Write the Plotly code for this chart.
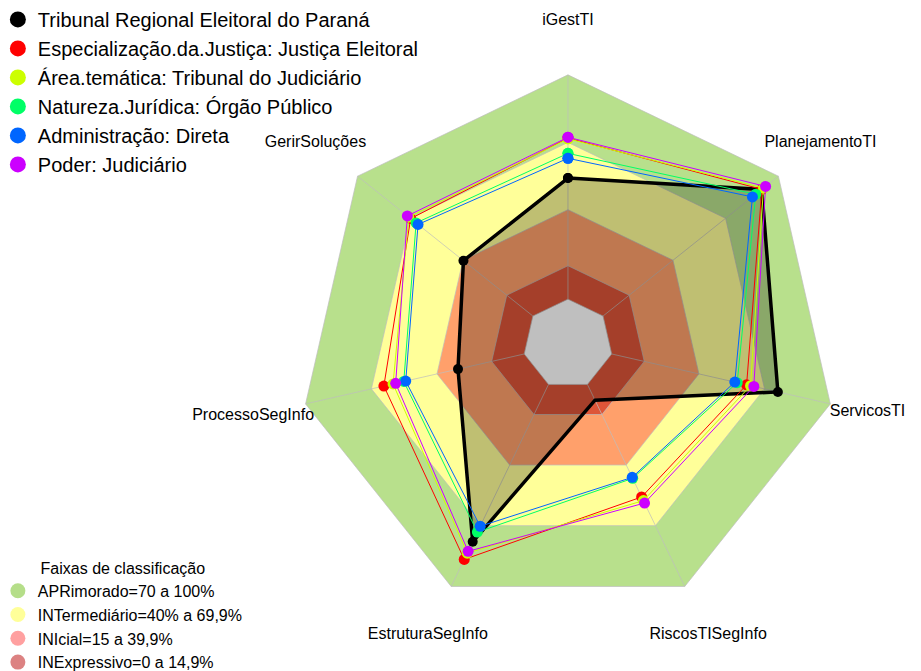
import plotly.graph_objects as go

# eixos do radar (sentido horario a partir do topo)
axes = ["iGestTI", "PlanejamentoTI", "ServicosTI", "RiscosTISegInfo",
        "EstruturaSegInfo", "ProcessoSegInfo", "GerirSoluções"]

tre_pr = [54, 90.5, 76, 7.8, 77.9, 30.3, 39.6]
justica_eleitoral = [71.8, 90.6, 61.7, 55.7, 86.6, 64.2, 69.7]
area_tematica = [71.5, 91.5, 63.5, 57.5, 83.5, 60.0, 70.8]
natureza_juridica = [65.0, 87.1, 57.4, 46.5, 73.1, 55.1, 66.6]
administracao = [62.8, 85.2, 56.3, 46.0, 70.2, 54.2, 65.5]
poder = [72.2, 92.7, 65.0, 58.7, 82.6, 58.8, 71.6]

series_names = [
    "Tribunal Regional Eleitoral do Paraná",
    "Especialização.da.Justiça: Justiça Eleitoral",
    "Área.temática: Tribunal do Judiciário",
    "Natureza.Jurídica: Órgão Público",
    "Administração: Direta",
    "Poder: Judiciário",
]
series_values = [tre_pr, justica_eleitoral, area_tematica,
                 natureza_juridica, administracao, poder]
series_colors = ["#000000", "#FF0000", "#CCFF00", "#00FF66", "#0066FF", "#CC00FF"]

# faixas de classificacao
band_names = ["APRimorado=70 a 100%", "INTermediário=40% a 69,9%",
              "INIcial=15 a 39,9%", "INExpressivo=0 a 14,9%"]
band_limits = [100, 69.9, 39.9, 14.9]
band_fill = ["#B8E08C", "#FFFF99", "#FFA06B", "#DD5538"]
band_legend = ["#B5DE89", "#FFFF99", "#FFA0A0", "#DC8282"]

R_MIN, R_MAX = -20, 125
# raio dos rotulos (ServicosTI puxado para dentro para caber na pagina)
label_r = [117 if a == "ServicosTI" else 124 for a in axes]

closed = axes + axes[:1]
fig = go.Figure()

# faixas (poligonos preenchidos, de fora para dentro)
for lim, col in zip(band_limits + [0], band_fill + ["#FFFFFF"]):
    fig.add_scatterpolar(
        r=[lim] * len(closed), theta=closed, mode="lines", fill="toself",
        fillcolor=col, line=dict(color="rgba(190,190,190,0.7)", width=1),
        showlegend=False, hoverinfo="skip",
    )

# raios
for a in axes:
    fig.add_scatterpolar(
        r=[0, 100], theta=[a, a], mode="lines",
        line=dict(color="rgba(190,190,190,0.7)", width=1),
        showlegend=False, hoverinfo="skip",
    )

# series
for i, (name, vals, col) in enumerate(zip(series_names, series_values, series_colors)):
    main = i == 0
    fig.add_scatterpolar(
        r=vals + vals[:1], theta=closed,
        mode="lines+markers",
        fill="toself" if main else None,
        fillcolor="rgba(0,0,0,0.25)" if main else None,
        line=dict(color=col, width=3.5 if main else 1),
        marker=dict(color=col, size=10 if main else 11),
        name=name, showlegend=False,
    )

# rotulos dos eixos
fig.add_scatterpolar(
    r=label_r, theta=axes, mode="text", text=axes,
    textfont=dict(size=16, color="black", family="Liberation Sans, Arial"),
    cliponaxis=False, showlegend=False, hoverinfo="skip",
)

# itens de legenda
for name, col in zip(series_names, series_colors):
    fig.add_scatterpolar(
        r=[None], theta=[axes[0]], mode="markers", name=name,
        marker=dict(color=col, size=16), legend="legend",
    )
for name, col in zip(band_names, band_legend):
    fig.add_scatterpolar(
        r=[None], theta=[axes[0]], mode="markers", name=name,
        marker=dict(color=col, size=15), legend="legend2",
    )

fig.update_layout(
    width=921, height=671,
    margin=dict(l=0, r=0, t=0, b=0, autoexpand=False),
    paper_bgcolor="white",
    font=dict(family="Liberation Sans, Arial", color="black"),
    polar=dict(
        domain=dict(x=[0.2549, 0.9611], y=[0.0146, 0.9839]),
        bgcolor="rgba(0,0,0,0)",
        gridshape="linear",
        radialaxis=dict(range=[R_MIN, R_MAX], visible=False),
        angularaxis=dict(visible=False, direction="clockwise", rotation=90,
                         type="category", categoryarray=axes),
    ),
    legend=dict(x=-0.011, y=1.012, xanchor="left", yanchor="top",
                font=dict(size=20), bgcolor="rgba(0,0,0,0)",
                itemsizing="trace", tracegroupgap=0),
    legend2=dict(x=-0.011, y=0.0, xanchor="left", yanchor="bottom",
                 font=dict(size=16), bgcolor="rgba(0,0,0,0)",
                 title=dict(text="Faixas de classificação", side="top center",
                            font=dict(size=16)),
                 itemsizing="trace"),
)

fig.write_html("out.html")
